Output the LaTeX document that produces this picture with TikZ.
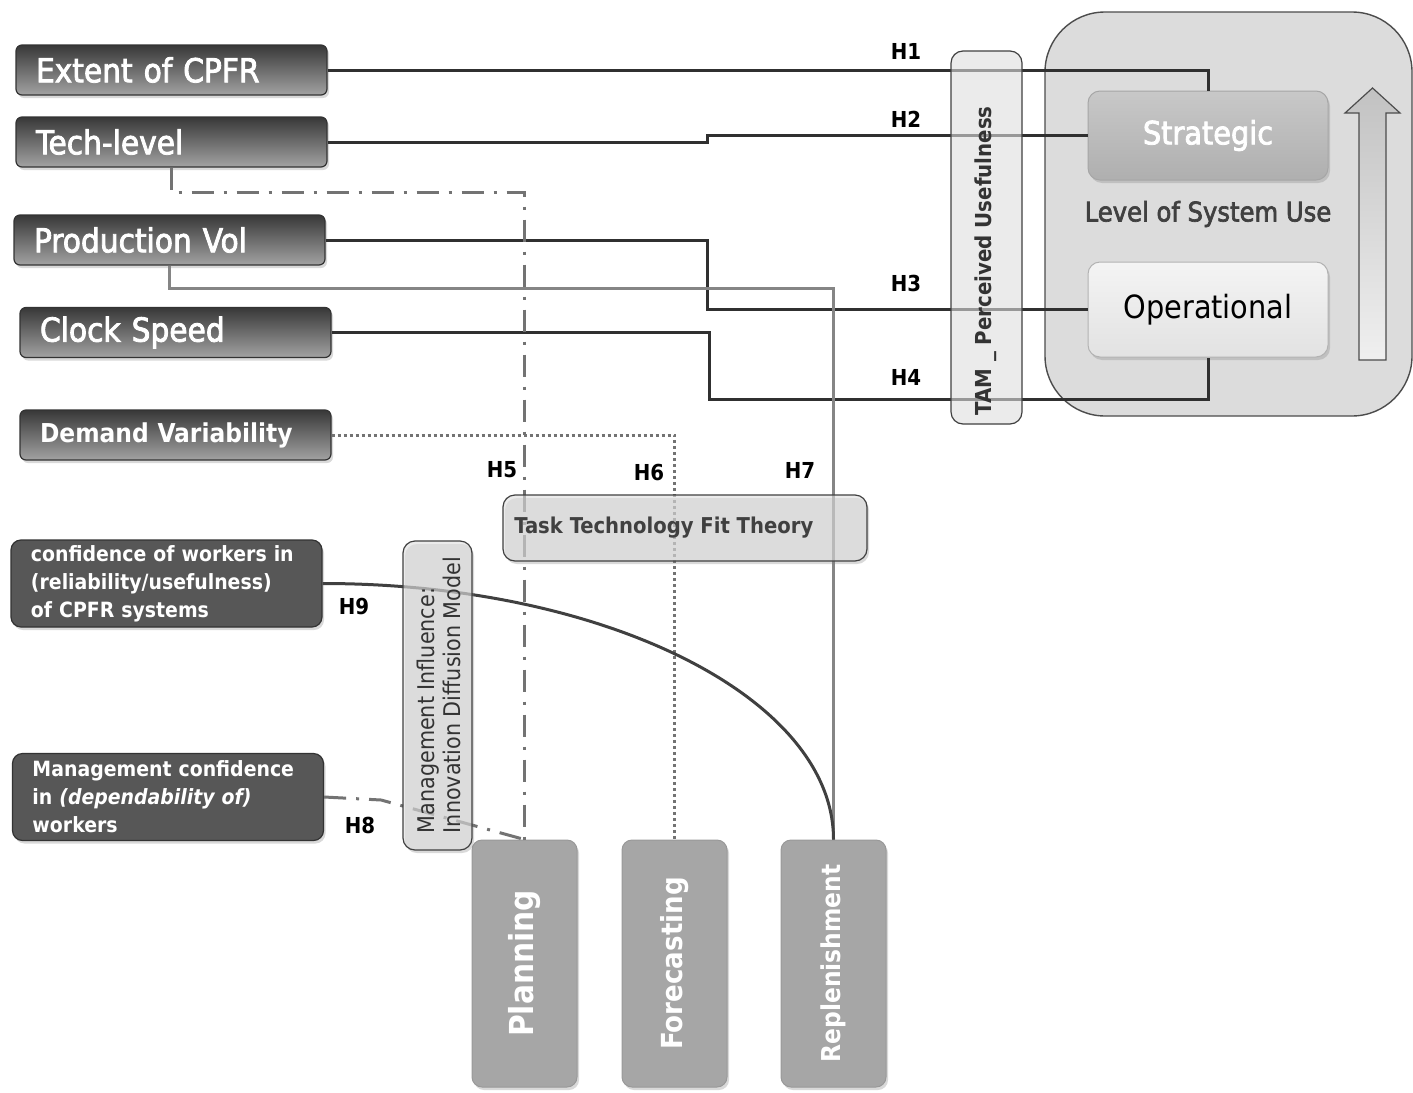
\documentclass[tikz,border=0pt]{standalone}
\usepackage{fontspec}
\setmainfont{DejaVu Sans Condensed}
\newfontfamily\semib[FakeBold=2.5]{DejaVu Sans Condensed}
\usetikzlibrary{shadows,calc}
\definecolor{ltop}{HTML}{383838}
\definecolor{lbot}{HTML}{A2A2A2}
\definecolor{dboxc}{HTML}{575757}
\definecolor{bigfill}{HTML}{DCDCDC}
\definecolor{stratT}{HTML}{C8C8C8}
\definecolor{stratB}{HTML}{AFAFAF}
\definecolor{operT}{HTML}{F4F4F4}
\definecolor{operB}{HTML}{E2E2E2}
\definecolor{botc}{HTML}{A6A6A6}
\definecolor{linedark}{HTML}{303030}
\definecolor{linegrey}{HTML}{858585}
\newcommand\fsz[2]{\fontsize{#1}{#2}\selectfont}
\begin{document}
\begin{tikzpicture}[x=0.5pt,y=-0.5pt,
  shad/.style={drop shadow={opacity=0.3,shadow xshift=1pt,shadow yshift=-1.5pt}},
  lbox/.style={draw=black!80, line width=0.6pt, rounded corners=3pt, top color=ltop, bottom color=lbot,
    text=white, align=left, text width=135.5pt, inner xsep=10pt, inner ysep=0pt,
    minimum height=25pt, shad},
  dbox/.style={draw=black!80, line width=0.6pt, rounded corners=5pt, fill=dboxc,
    text=white, align=left, text width=135.5pt, inner xsep=10pt, inner ysep=0pt,
    minimum height=43.5pt, font=\bfseries\fsz{10.5}{14}, shad},
  bigbox/.style={draw=black!70, line width=0.7pt, rounded corners=30pt, fill=bigfill,
    minimum width=183.5pt, minimum height=202pt},
  lvlbox/.style={rounded corners=6pt, minimum width=120pt, shad, line width=0.5pt},
  botbox/.style={draw=black!40, line width=0.5pt, rounded corners=5pt, fill=botc,
    minimum width=52.5pt, minimum height=123.5pt, shad},
  botlabel/.style={rotate=90, text=white, font=\bfseries\fsz{#1}{#1}},
  glass/.style={draw=black!75, line width=0.6pt, rounded corners=6pt, fill=black!13, fill opacity=0.6},
  conn/.style={draw=linedark, line width=1.5pt},
  greyline/.style={draw=linegrey, line width=1.4pt},
  dashdotline/.style={draw=black!55, line width=1.5pt, dash pattern=on 11pt off 5pt on 1.5pt off 5pt},
  dotline/.style={draw=black!55, line width=1.5pt, dash pattern=on 1.5pt off 1.5pt},
  curveline/.style={draw=black!75, line width=1.5pt},
  hlab/.style={font=\bfseries\fsz{11}{13}, text=black, inner sep=0pt}
]
\useasboundingbox (0,0) rectangle (1413,1092);

% right block
\node[bigbox] (use) at (1228.5,214) {};
\node[lvlbox, draw=black!35, top color=stratT, bottom color=stratB, minimum height=44.5pt,
  text=white, font=\semib\fsz{16}{18}] (strategic) at (1208,135.5) {Strategic};
\node[lvlbox, draw=black!30, top color=operT, bottom color=operB, minimum height=47.5pt,
  text=black, font=\fsz{16}{18}] (operational) at (1208,309.5) {Operational};
\node[text=black!75, font=\semib\fsz{13.5}{16}] (level) at (1208,214) {Level of System Use};
\draw[draw=black!70, line width=0.6pt, top color=black!24, bottom color=black!6]
  (1359,360) -- (1359,113) -- (1345,113) -- (1372.5,88) -- (1400,113) -- (1386,113) -- (1386,360) -- cycle;

% left boxes
\node[lbox, font=\semib\fsz{16.5}{18}] (extent) at (171.5,70) {Extent of CPFR};
\node[lbox, font=\semib\fsz{16.5}{18}] (tech) at (171.5,142) {Tech-level};
\node[lbox, font=\semib\fsz{16.5}{18}] (prod) at (169.5,240) {Production Vol};
\node[lbox, font=\semib\fsz{16.5}{18}] (clock) at (175.5,332.5) {Clock Speed};
\node[lbox, font=\bfseries\fsz{13}{14}] (demand) at (175.5,435) {Demand Variability};
\node[dbox] (conf) at (166.5,583.5) {\mbox{confidence of workers in}\\\mbox{(reliability/usefulness)}\\\mbox{of CPFR systems}};
\node[dbox] (mgmt) at (168,797) {\mbox{Management confidence}\\\mbox{in \textit{(dependability of)}}\\\mbox{workers}};

% bottom boxes
\node[botbox] (planning) at (524.5,963.5) {};
\node[botlabel=16.5] (planningtxt) at (planning) {Planning};
\node[botbox] (forecast) at (674.5,963.5) {};
\node[botlabel=14.5] (forecasttxt) at (forecast) {Forecasting};
\node[botbox] (repl) at (833.5,963.5) {};
\node[botlabel=13] (repltxt) at (repl) {Replenishment};

% connectors
\draw[conn] (extent.east) -| (strategic.north);
\draw[conn] (tech.east) -- ++(380,0) |- (strategic.west);
\draw[conn] (prod.east) -- ++(382,0) |- (operational.west);
\draw[conn] (clock.east) -| ++(378,66.5) -| (operational.south);
\draw[greyline] (prod.south) -- ++(0,23) -| (repl.north);
\draw[dashdotline] (tech.south) -- ++(0,25) -| (planning.north);
\draw[dotline] (demand.east) -| (forecast.north);
\draw[curveline] (conf.east) .. controls +(282.5,0) and +(0,-141.7) .. (repl.north);
\draw[dashdotline] (mgmt.east) -- ++(57,3) -- (planning.north);

% translucent theory boxes
\node[glass, minimum width=35.5pt, minimum height=186.5pt] (tam) at (986.5,237.5) {};
\node[rotate=90, text=black!80, font=\bfseries\fsz{11}{13}] (tamtxt) at (986,261) {TAM \_ Perceived Usefulness};
\node[glass, minimum width=182pt, minimum height=33pt, shad] (ttf) at (685,528) {};
\node[anchor=west, text=black!75, font=\bfseries\fsz{10.9}{13}, inner sep=0pt] (ttftxt) at (514,528) {Task Technology Fit Theory};
\node[glass, minimum width=34.5pt, minimum height=154.5pt, shad] (mi) at (437.5,695.5) {};
\node[rotate=90, align=left, text=black!80, font=\fsz{11.5}{13}] (mitxt) at (439,695) {Management Influence:\\Innovation Diffusion Model};

% hypothesis labels
\node[hlab] (h1) at (906,51) {H1};
\node[hlab] (h2) at (906,119) {H2};
\node[hlab] (h3) at (906,283) {H3};
\node[hlab] (h4) at (906,377) {H4};
\node[hlab] (h5) at (502,470) {H5};
\node[hlab] (h6) at (649,472) {H6};
\node[hlab] (h7) at (800,470) {H7};
\node[hlab] (h8) at (360,825) {H8};
\node[hlab] (h9) at (354,606) {H9};
\end{tikzpicture}
\end{document}
